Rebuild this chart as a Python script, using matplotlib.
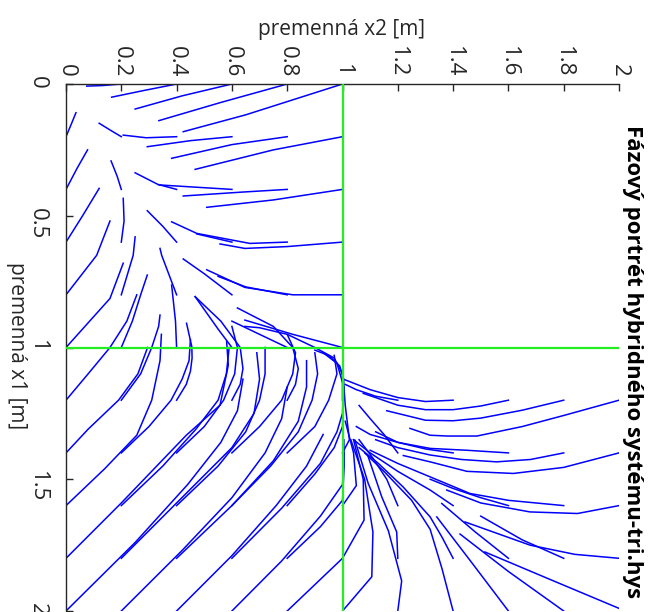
import matplotlib.pyplot as plt

plt.rcParams['font.family'] = ['Open Sans', 'DejaVu Sans']

# trajectories as (x2, x1) points, first point = initial condition
upper_left = [
    [(0.2, 0.0), (0.13, 0.006), (0.075, 0.008)],
    [(0.4, 0.0), (0.28, 0.025), (0.165, 0.05)],
    [(0.6, 0.0), (0.42, 0.045), (0.25, 0.095)],
    [(0.8, 0.0), (0.56, 0.07), (0.336, 0.139)],
    [(1.0, 0.0), (0.65, 0.117), (0.424, 0.181)],
    [(0.0, 0.2), (0.02, 0.15), (0.036, 0.109)],
    [(0.2, 0.2), (0.16, 0.175), (0.12, 0.149)],
    [(0.4, 0.2), (0.29, 0.204), (0.207, 0.194)],
    [(0.6, 0.2), (0.45, 0.215), (0.294, 0.238)],
    [(0.8, 0.2), (0.6, 0.23), (0.382, 0.282)],
    [(1.0, 0.2), (0.75, 0.25), (0.467, 0.324)],
    [(0.0, 0.4), (0.04, 0.32), (0.078, 0.25)],
    [(0.2, 0.4), (0.185, 0.35), (0.163, 0.292)],
    [(0.4, 0.4), (0.336, 0.382)],
    [(0.6, 0.4), (0.336, 0.383), (0.25, 0.337)],
    [(0.8, 0.4), (0.64, 0.41), (0.424, 0.425)],
    [(1.0, 0.4), (0.75, 0.44), (0.509, 0.468)],
    [(0.0, 0.6), (0.06, 0.5), (0.12, 0.396)],
    [(0.2, 0.6), (0.21, 0.52), (0.207, 0.434)],
    [(0.4, 0.6), (0.35, 0.54), (0.294, 0.481)],
    [(0.6, 0.6), (0.473, 0.569)],
    [(0.8, 0.6), (0.665, 0.605), (0.473, 0.567), (0.382, 0.523)],
    [(1.0, 0.6), (0.8, 0.617), (0.647, 0.624), (0.557, 0.607)],
    [(0.0, 0.8), (0.111, 0.65), (0.159, 0.52)],
    [(0.2, 0.8), (0.243, 0.65), (0.25, 0.58)],
    [(0.4, 0.8), (0.346, 0.65), (0.34, 0.624)],
    [(0.6, 0.8), (0.5, 0.72), (0.424, 0.664)],
    [(0.8, 0.8), (0.65, 0.77), (0.55, 0.73)],
    [(1.0, 0.8), (0.82, 0.8), (0.647, 0.772), (0.509, 0.705)],
]

lower_left = [
    [(0.0, 1.0), (0.159, 0.814), (0.207, 0.68)],
    [(0.2, 1.0), (0.24, 0.9), (0.27, 0.8), (0.294, 0.725)],
    [(0.4, 1.0), (0.396, 0.9), (0.382, 0.763)],
    [(0.6, 1.0), (0.55, 0.93), (0.467, 0.807)],
    [(0.8, 1.0), (0.7, 0.95), (0.6, 0.9)],
    [(1.0, 1.0), (0.82, 0.95), (0.647, 0.896)],
    [(0.0, 1.2), (0.08, 1.1), (0.159, 1.0), (0.22, 0.9), (0.256, 0.8)],
    [(0.2, 1.2), (0.27, 1.1), (0.31, 1.0), (0.335, 0.92), (0.34, 0.877)],
    [(0.4, 1.2), (0.435, 1.14), (0.45, 1.09), (0.456, 1.04), (0.455, 0.997), (0.436, 0.908)],
    [(0.6, 1.2), (0.63, 1.14), (0.64, 1.08), (0.63, 1.0), (0.56, 0.9), (0.467, 0.807)],
    [(0.8, 1.2), (0.83, 1.14), (0.84, 1.08), (0.82, 1.0), (0.75, 0.92), (0.62, 0.85)],
    [(0.0, 1.4), (0.08, 1.31), (0.19, 1.2), (0.26, 1.1), (0.295, 1.0)],
    [(0.2, 1.4), (0.3, 1.3), (0.38, 1.2), (0.42, 1.12), (0.445, 1.05), (0.45, 0.97)],
    [(0.4, 1.4), (0.5, 1.3), (0.57, 1.2), (0.61, 1.1), (0.62, 1.0), (0.6, 0.92)],
    [(0.6, 1.4), (0.7, 1.3), (0.78, 1.2), (0.82, 1.1), (0.83, 1.02), (0.8, 0.95)],
    [(0.8, 1.4), (0.9, 1.3), (0.95, 1.2), (0.98, 1.1), (0.97, 1.03)],
    [(0.0, 1.6), (0.14, 1.46), (0.256, 1.333), (0.31, 1.2), (0.34, 1.05), (0.345, 0.95)],
    [(0.2, 1.6), (0.35, 1.45), (0.47, 1.31), (0.55, 1.2), (0.58, 1.1), (0.59, 1.0)],
    [(0.4, 1.6), (0.55, 1.45), (0.65, 1.32), (0.7, 1.2), (0.72, 1.1), (0.72, 1.0)],
    [(0.6, 1.6), (0.74, 1.45), (0.84, 1.32), (0.89, 1.2), (0.91, 1.1), (0.9, 1.02)],
    [(0.8, 1.6), (0.9, 1.48), (0.97, 1.38), (1.0, 1.3), (1.005, 1.15), (0.98, 1.06), (0.93, 1.02)],
    [(0.0, 1.8), (0.2, 1.59), (0.435, 1.333), (0.557, 1.219), (0.587, 1.067), (0.581, 0.978)],
    [(0.2, 1.8), (0.4, 1.59), (0.6, 1.38), (0.68, 1.25), (0.7, 1.12), (0.69, 1.02)],
    [(0.4, 1.8), (0.6, 1.6), (0.75, 1.43), (0.84, 1.28), (0.87, 1.15), (0.87, 1.05)],
    [(0.6, 1.8), (0.78, 1.61), (0.92, 1.44), (0.98, 1.32), (1.0, 1.25), (1.004, 1.12),
     (0.99, 1.07), (0.95, 1.03), (0.9, 1.01)],
    [(0.8, 1.8), (0.92, 1.68), (1.0, 1.58), (1.006, 1.45), (1.005, 1.35)],
    [(0.0, 2.0), (0.25, 1.74), (0.44, 1.52), (0.56, 1.36), (0.62, 1.24), (0.64, 1.12)],
    [(0.2, 2.0), (0.42, 1.77), (0.6, 1.57), (0.72, 1.4), (0.78, 1.27), (0.8, 1.15)],
    [(0.4, 2.0), (0.6, 1.79), (0.76, 1.6), (0.87, 1.45), (0.93, 1.33)],
    [(0.6, 2.0), (0.78, 1.81), (0.92, 1.64), (1.0, 1.52), (1.006, 1.4)],
    [(0.8, 2.0), (0.9, 1.9), (1.0, 1.8)],
    [(1.0, 1.2), (1.0, 1.1), (0.97, 1.04), (0.9, 1.0), (0.8, 0.95), (0.7, 0.925), (0.647, 0.92)],
]

lower_right = [
    [(1.0, 1.4), (1.025, 1.35), (1.01, 1.22), (1.003, 1.12)],
    [(1.0, 1.6), (1.05, 1.524), (1.04, 1.4), (1.01, 1.28)],
    [(1.0, 1.8), (1.078, 1.655), (1.075, 1.5), (1.04, 1.35)],
    [(1.0, 2.0), (1.106, 1.87), (1.11, 1.7), (1.08, 1.5), (1.03, 1.35)],
    [(1.2, 1.2), (1.12, 1.185), (1.05, 1.16), (1.01, 1.14)],
    [(1.4, 1.2), (1.3, 1.205), (1.2, 1.19), (1.1, 1.16), (1.003, 1.12)],
    [(1.6, 1.2), (1.5, 1.222), (1.4, 1.236), (1.3, 1.236), (1.2, 1.219), (1.075, 1.174)],
    [(1.8, 1.2), (1.65, 1.238), (1.5, 1.268), (1.4, 1.278), (1.3, 1.276), (1.16, 1.24)],
    [(2.0, 1.2), (1.8, 1.258), (1.65, 1.3), (1.486, 1.336), (1.38, 1.336), (1.317, 1.333),
     (1.244, 1.307)],
    [(1.2, 1.4), (1.15, 1.33), (1.1, 1.27), (1.06, 1.22)],
    [(1.4, 1.4), (1.3, 1.385), (1.2, 1.36), (1.12, 1.32)],
    [(1.6, 1.4), (1.45, 1.39), (1.317, 1.383), (1.2, 1.36), (1.1, 1.33), (1.05, 1.3)],
    [(1.8, 1.4), (1.68, 1.425), (1.557, 1.434), (1.43, 1.425), (1.317, 1.408), (1.2, 1.38),
     (1.12, 1.35)],
    [(2.0, 1.4), (1.8, 1.455), (1.618, 1.478), (1.45, 1.47), (1.317, 1.434), (1.22, 1.41)],
    [(1.2, 1.6), (1.16, 1.5), (1.11, 1.42), (1.06, 1.35)],
    [(1.4, 1.6), (1.317, 1.541), (1.2, 1.47), (1.1, 1.4), (1.04, 1.35)],
    [(1.6, 1.6), (1.5, 1.57), (1.4, 1.535), (1.317, 1.5)],
    [(1.8, 1.6), (1.6, 1.58), (1.461, 1.554), (1.317, 1.491), (1.2, 1.44), (1.1, 1.39)],
    [(2.0, 1.6), (1.85, 1.63), (1.678, 1.624), (1.5, 1.59), (1.377, 1.541)],
    [(1.2, 1.8), (1.196, 1.7), (1.142, 1.567), (1.093, 1.415)],
    [(1.4, 1.8), (1.36, 1.72), (1.317, 1.643), (1.22, 1.53), (1.13, 1.44), (1.06, 1.38)],
    [(1.6, 1.8), (1.48, 1.7), (1.359, 1.592)],
    [(1.8, 1.8), (1.65, 1.73), (1.5, 1.64)],
    [(2.0, 1.8), (1.84, 1.785), (1.678, 1.75), (1.443, 1.662)],
    [(1.2, 2.0), (1.214, 1.886), (1.166, 1.696), (1.093, 1.516), (1.045, 1.352)],
    [(1.4, 2.0), (1.36, 1.84), (1.317, 1.69), (1.25, 1.58), (1.15, 1.47), (1.08, 1.4)],
    [(1.6, 2.0), (1.47, 1.82), (1.341, 1.643)],
    [(1.8, 2.0), (1.6, 1.85), (1.425, 1.708)],
    [(2.0, 1.99), (1.75, 1.88), (1.515, 1.776)],
]

x2_ticks = [0, 0.2, 0.4, 0.6, 0.8, 1, 1.2, 1.4, 1.6, 1.8, 2]
x1_ticks = [0, 0.5, 1, 1.5, 2]
boundary = 1.0

fig = plt.figure(figsize=(6.53, 6.12), dpi=100)
ax = fig.add_axes([66 / 653, 1 / 612, 553 / 653, 527 / 612])

for traj in upper_left + lower_left + lower_right:
    ax.plot([p[0] for p in traj], [p[1] for p in traj], color='#0000ff', lw=1.1)

ax.plot([boundary, boundary], [0, 2], color='#22ee22', lw=1.6, zorder=3)
ax.plot([0, 2], [boundary, boundary], color='#22ee22', lw=1.6, zorder=3)

ax.set_xlim(0, 2)
ax.set_ylim(2, 0)
ax.xaxis.tick_top()
ax.set_xticks(x2_ticks)
ax.set_xticklabels([f'{t:g}' for t in x2_ticks], rotation=270)
ax.set_yticks(x1_ticks)
ax.set_yticklabels([f'{t:g}' for t in x1_ticks], rotation=270)
ax.tick_params(axis='x', direction='in', length=5, width=1, colors='#262626', labelsize=16, pad=5)
ax.tick_params(axis='y', direction='in', length=5, width=1, colors='#262626', labelsize=16, pad=13)
for s in ['right', 'bottom']:
    ax.spines[s].set_visible(False)
for s in ['top', 'left']:
    ax.spines[s].set_color('#262626')
    ax.spines[s].set_linewidth(1.0)

fig.text(342 / 653, 1 - 29 / 612, 'premenná x2 [m]', ha='center', va='center', fontsize=15, color='#262626')
fig.text(16 / 653, 1 - 346 / 612, 'premenná x1 [m]', ha='center', va='center', fontsize=15,
         rotation=270, color='#262626')
fig.text(632 / 653, 1 - 362 / 612, 'Fázový portrét hybridného systému-tri.hys', ha='center', va='center',
         fontsize=16, fontweight='bold', rotation=270, color='black')

fig.savefig('out.png', dpi=100)
